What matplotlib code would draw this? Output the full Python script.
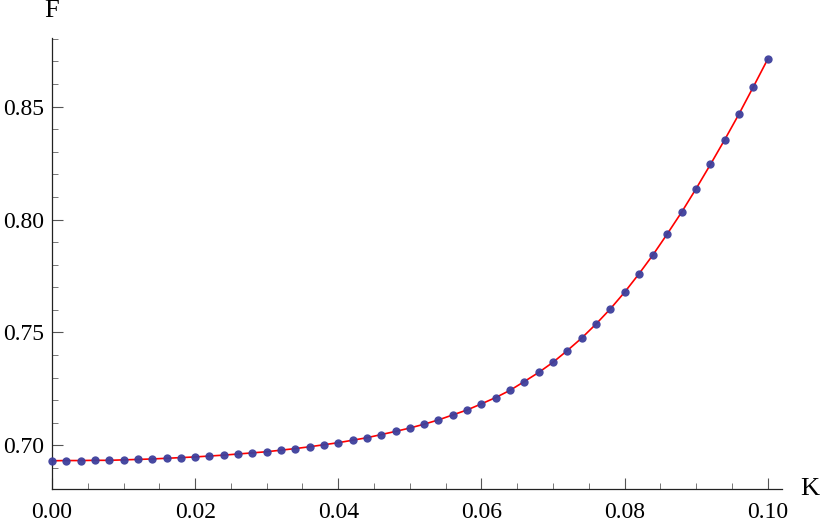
import matplotlib
matplotlib.use("Agg")
import matplotlib.pyplot as plt
from matplotlib.ticker import MultipleLocator, FormatStrFormatter

K = [0.000, 0.002, 0.004, 0.006, 0.008, 0.010, 0.012, 0.014, 0.016, 0.018,
     0.020, 0.022, 0.024, 0.026, 0.028, 0.030, 0.032, 0.034, 0.036, 0.038,
     0.040, 0.042, 0.044, 0.046, 0.048, 0.050, 0.052, 0.054, 0.056, 0.058,
     0.060, 0.062, 0.064, 0.066, 0.068, 0.070, 0.072, 0.074, 0.076, 0.078,
     0.080, 0.082, 0.084, 0.086, 0.088, 0.090, 0.092, 0.094, 0.096, 0.098,
     0.100]
F = [0.6932, 0.6933, 0.6933, 0.6934, 0.6934, 0.6936, 0.6938, 0.6940, 0.6943, 0.6946,
     0.6949, 0.6953, 0.6957, 0.6962, 0.6967, 0.6972, 0.6979, 0.6986, 0.6994, 0.7003,
     0.7012, 0.7023, 0.7034, 0.7048, 0.7062, 0.7077, 0.7094, 0.7113, 0.7135, 0.7157,
     0.7184, 0.7212, 0.7244, 0.7283, 0.7323, 0.7368, 0.7420, 0.7475, 0.7537, 0.7604,
     0.7678, 0.7759, 0.7845, 0.7938, 0.8034, 0.8137, 0.8244, 0.8354, 0.8468, 0.8588,
     0.8710]
x_label = "K"
y_label = "F"

plt.rcParams['font.family'] = ['Liberation Serif', 'DejaVu Serif']

fig = plt.figure(figsize=(8.22, 5.26), dpi=100)
ax = fig.add_axes([52/822, 37/526, (782-52)/822, (489-38)/526])

ax.plot(K, F, color='#ff0000', lw=1.2, zorder=2, clip_on=False)
ax.plot(K, F, 'o', color='#3d3f9c', ms=6.0, mec='none', alpha=0.95, zorder=3, clip_on=False)

ax.set_xlim(0, 0.102)
ax.set_ylim(0.6807, 0.8804)

for s in ['top', 'right']:
    ax.spines[s].set_visible(False)
for s in ['left', 'bottom']:
    ax.spines[s].set_color('#222222')
    ax.spines[s].set_linewidth(0.9)

ax.xaxis.set_major_locator(MultipleLocator(0.02))
ax.xaxis.set_minor_locator(MultipleLocator(0.005))
ax.yaxis.set_major_locator(MultipleLocator(0.05))
ax.yaxis.set_minor_locator(MultipleLocator(0.01))
ax.xaxis.set_major_formatter(FormatStrFormatter('%.2f'))
ax.yaxis.set_major_formatter(FormatStrFormatter('%.2f'))
ax.tick_params(which='major', direction='in', length=8, width=0.8, color='#555555',
               labelsize=17, pad=9)
ax.tick_params(which='minor', direction='in', length=4.5, width=0.7, color='#777777')
ax.tick_params(axis='y', which='major', pad=6)

ax.text(0, 1.035, y_label, transform=ax.transAxes, ha='center', va='bottom', fontsize=19)
ax.text(1.025, 0, x_label, transform=ax.transAxes, ha='left', va='center', fontsize=19)

fig.savefig("out.png", dpi=100)
